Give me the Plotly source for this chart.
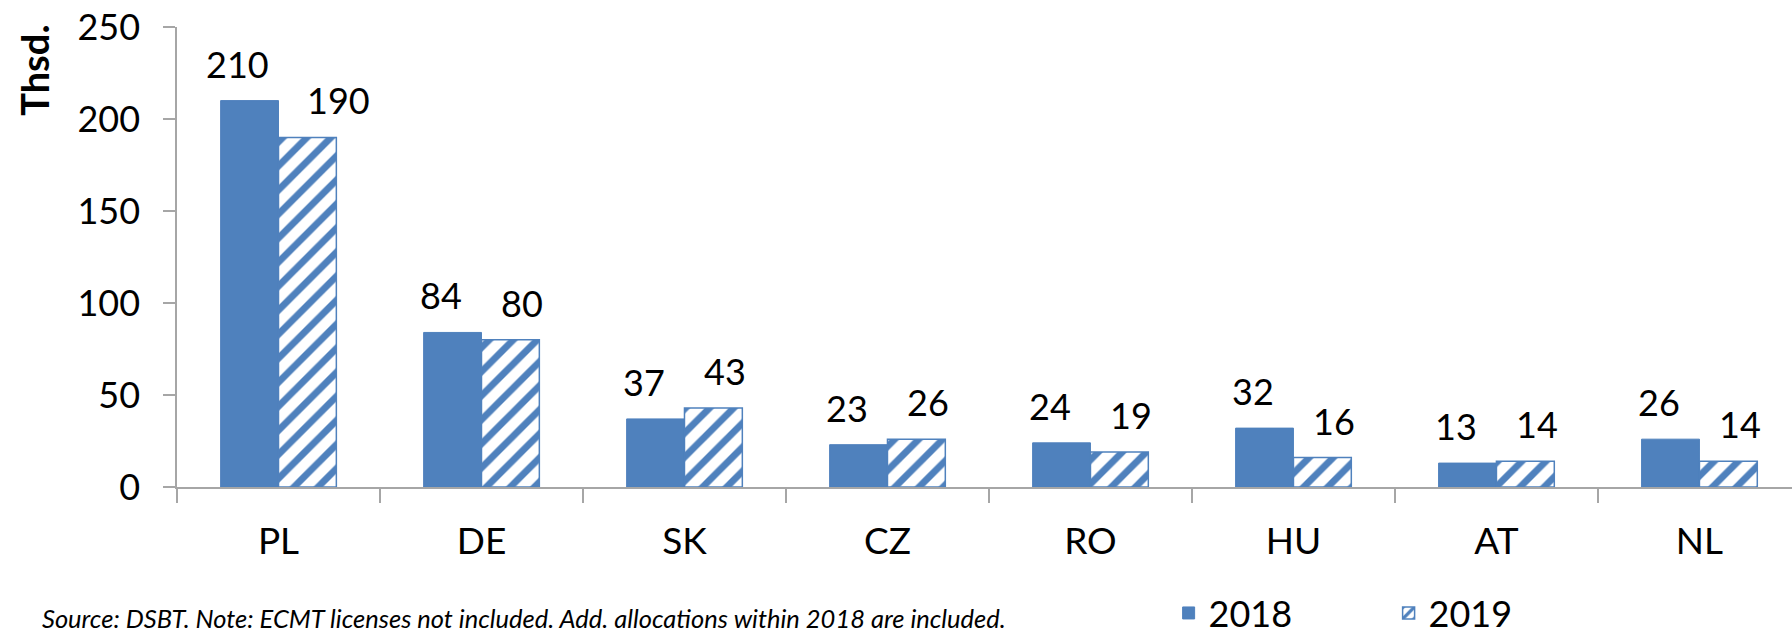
import plotly.graph_objects as go

countries = ["PL", "DE", "SK", "CZ", "RO", "HU", "AT", "NL"]
v2018 = [210, 84, 37, 23, 24, 32, 13, 26]
v2019 = [190, 80, 43, 26, 19, 16, 14, 14]
years = ["2018", "2019"]
y_ticks = [0, 50, 100, 150, 200, 250]

BLUE = "#4F81BD"
FONT = "Lato"

fig = go.Figure()
fig.add_trace(go.Bar(
    x=countries, y=v2018, name=years[0],
    marker=dict(color=BLUE, line=dict(color=BLUE, width=1)),
))
fig.add_trace(go.Bar(
    x=countries, y=v2019, name=years[1],
    marker=dict(color="white", line=dict(color=BLUE, width=1.5),
                pattern=dict(shape="/", fgcolor=BLUE, bgcolor="white", fgopacity=1,
                             size=17, solidity=0.4, fillmode="overlay")),
))

# value labels
offset = 0.2
for i, c in enumerate(countries):
    fig.add_annotation(x=i - offset, y=v2018[i], text=str(v2018[i]),
                       showarrow=False, yanchor="bottom", yshift=13,
                       font=dict(size=36, color="black", family=FONT))
    xs = 19 if i == 0 else 0
    fig.add_annotation(x=i + offset, y=v2019[i], text=str(v2019[i]),
                       showarrow=False, yanchor="bottom", yshift=13, xshift=xs,
                       font=dict(size=36, color="black", family=FONT))

fig.add_annotation(xref="paper", yref="paper", x=-0.0885, y=0.905,
                   text="<b>Thsd.</b>", textangle=-90, showarrow=False,
                   xanchor="center", yanchor="middle",
                   font=dict(size=38, color="black", family=FONT))
fig.add_annotation(xref="paper", yref="paper", x=-0.085, y=-0.284,
                   text="<i>Source: DSBT. Note: ECMT licenses not included. Add. allocations within 2018 are included.</i>",
                   showarrow=False, xanchor="left", yanchor="middle",
                   font=dict(size=25.5, color="black", family=FONT))

fig.update_layout(
    width=1792, height=638,
    margin=dict(l=177, r=0, t=27, b=151, autoexpand=False),
    paper_bgcolor="white", plot_bgcolor="white",
    barmode="group", bargap=0.43, bargroupgap=0,
    font=dict(family=FONT, color="black", size=30),
    legend=dict(orientation="h", x=0.614, y=-0.274, xanchor="left", yanchor="middle",
                font=dict(size=36, family=FONT), entrywidth=175,
                itemwidth=30),
    showlegend=True,
)
fig.update_xaxes(
    range=[-0.5, 7.456], showline=True, linecolor="#A6A6A6", linewidth=1.5,
    ticks="outside", tickson="boundaries", ticklen=14, tickcolor="#A6A6A6",
    tickwidth=1.5, showgrid=False, tickfont=dict(size=37), ticklabelstandoff=21,
    automargin=False,
)
fig.update_yaxes(
    range=[0, 250], tickvals=y_ticks, showline=True, linecolor="#A6A6A6",
    linewidth=1.5, ticks="outside", ticklen=12, tickcolor="#A6A6A6", tickwidth=1.5,
    showgrid=False, zeroline=False, tickfont=dict(size=36), ticklabelstandoff=16,
    automargin=False,
)

fig.write_html("out.html")
